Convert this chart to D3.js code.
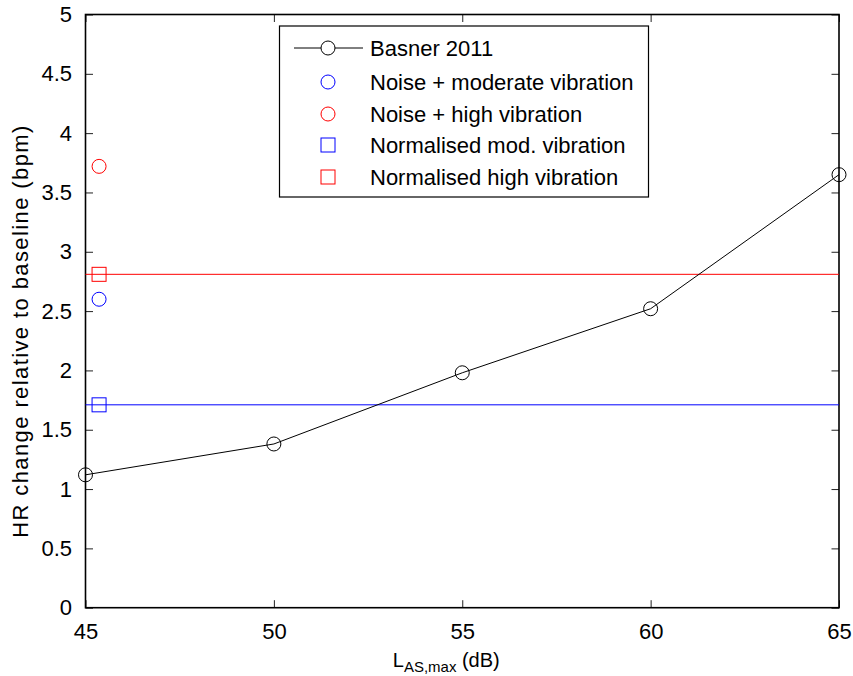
<!DOCTYPE html>
<html>
<head>
<meta charset="utf-8">
<script src="https://cdn.jsdelivr.net/npm/d3@7"></script>
<style>
  html, body { margin: 0; padding: 0; background: #fff; }
  svg text { font-family: "Liberation Sans", Arial, sans-serif; fill: #000; }
</style>
</head>
<body>
<div id="chart"></div>
<script>
// Heart-rate change vs. maximum sound level
const noiseLevels = [45, 50, 55, 60, 65];
const basnerHR = [1.12, 1.38, 1.98, 2.52, 3.65];

const vibX = 45.36;
const noiseModVib = 2.60;
const noiseHighVib = 3.72;
const normModVib = 1.71;
const normHighVib = 2.81;

const xTicks = [45, 50, 55, 60, 65];
const yTicks = [0, 0.5, 1, 1.5, 2, 2.5, 3, 3.5, 4, 4.5, 5];

const legendLabels = [
  "Basner 2011",
  "Noise + moderate vibration",
  "Noise + high vibration",
  "Normalised mod. vibration",
  "Normalised high vibration"
];

const W = 853, H = 676;
const m = { left: 85.5, right: 853 - 839, top: 14.5, bottom: 676 - 607.7 };

const svg = d3.select("#chart").append("svg")
  .attr("width", W).attr("height", H);

const x = d3.scaleLinear().domain([45, 65]).range([m.left, W - m.right]);
const y = d3.scaleLinear().domain([0, 5]).range([H - m.bottom, m.top]);

const tickLen = 7.5;
const fmt = d => String(d);

// axes: labelled bottom/left, bare ticks on top/right, all ticks pointing inward
const gx = svg.append("g").attr("transform", `translate(0,${y(0)})`)
  .call(d3.axisBottom(x).tickValues(xTicks).tickFormat(fmt).tickSizeInner(-tickLen).tickSizeOuter(0).tickPadding(tickLen + 8));
const gy = svg.append("g").attr("transform", `translate(${x(45)},0)`)
  .call(d3.axisLeft(y).tickValues(yTicks).tickFormat(fmt).tickSizeInner(-tickLen).tickSizeOuter(0).tickPadding(tickLen + 6));
const gxt = svg.append("g").attr("transform", `translate(0,${y(5)})`)
  .call(d3.axisTop(x).tickValues(xTicks).tickFormat("").tickSizeInner(-tickLen).tickSizeOuter(0));
const gyr = svg.append("g").attr("transform", `translate(${x(65)},0)`)
  .call(d3.axisRight(y).tickValues(yTicks).tickFormat("").tickSizeInner(-tickLen).tickSizeOuter(0));

[gx, gy, gxt, gyr].forEach(g => {
  g.select(".domain").remove();
  g.selectAll(".tick line").attr("stroke", "#222").attr("stroke-width", 1);
  g.selectAll(".tick text").attr("font-size", 22).attr("fill", "#000");
});

// plot frame
svg.append("rect")
  .attr("x", x(45)).attr("y", y(5))
  .attr("width", x(65) - x(45)).attr("height", y(0) - y(5))
  .attr("fill", "none").attr("stroke", "#000").attr("stroke-width", 1.6);

const plot = svg.append("g");

// normalised reference lines
plot.append("line")
  .attr("x1", x(45)).attr("x2", x(65))
  .attr("y1", y(normHighVib)).attr("y2", y(normHighVib))
  .attr("stroke", "#ff0000").attr("stroke-width", 1);
plot.append("line")
  .attr("x1", x(45)).attr("x2", x(65))
  .attr("y1", y(normModVib)).attr("y2", y(normModVib))
  .attr("stroke", "#0000ff").attr("stroke-width", 1);

// Basner 2011 curve
const pts = noiseLevels.map((d, i) => [d, basnerHR[i]]);
plot.append("path")
  .attr("d", d3.line().x(d => x(d[0])).y(d => y(d[1]))(pts))
  .attr("fill", "none").attr("stroke", "#000").attr("stroke-width", 1);
plot.selectAll("circle.basner").data(pts).enter().append("circle")
  .attr("class", "basner")
  .attr("cx", d => x(d[0])).attr("cy", d => y(d[1])).attr("r", 7)
  .attr("fill", "none").attr("stroke", "#000").attr("stroke-width", 1);

// vibration markers
const R = 7, S = 14;
plot.append("circle").attr("cx", x(vibX)).attr("cy", y(noiseModVib)).attr("r", R)
  .attr("fill", "none").attr("stroke", "#0000ff");
plot.append("circle").attr("cx", x(vibX)).attr("cy", y(noiseHighVib)).attr("r", R)
  .attr("fill", "none").attr("stroke", "#ff0000");
plot.append("rect").attr("x", x(vibX) - S / 2).attr("y", y(normModVib) - S / 2)
  .attr("width", S).attr("height", S).attr("fill", "none").attr("stroke", "#0000ff");
plot.append("rect").attr("x", x(vibX) - S / 2).attr("y", y(normHighVib) - S / 2)
  .attr("width", S).attr("height", S).attr("fill", "none").attr("stroke", "#ff0000");

// axis titles
const xt = svg.append("text")
  .attr("x", (x(45) + x(65)) / 2 - 16).attr("y", 667)
  .attr("text-anchor", "middle").attr("font-size", 20);
xt.append("tspan").text("L");
xt.append("tspan").attr("font-size", 15).attr("dy", 5).text("AS,max");
xt.append("tspan").attr("dy", -5).text(" (dB)");

svg.append("text")
  .attr("transform", "translate(28,331) rotate(-90)")
  .attr("text-anchor", "middle").attr("font-size", 22)
  .attr("letter-spacing", 1.4)
  .text("HR change relative to baseline (bpm)");

// legend
const lg = svg.append("g");
lg.append("rect").attr("x", 279.5).attr("y", 26).attr("width", 369).attr("height", 171)
  .attr("fill", "#fff").attr("stroke", "#000").attr("stroke-width", 1.2);
const rowY = [48, 82, 114, 145, 177];
const mx = 328;
const styles = [
  { kind: "lineCircle", color: "#000" },
  { kind: "circle", color: "#0000ff" },
  { kind: "circle", color: "#ff0000" },
  { kind: "square", color: "#0000ff" },
  { kind: "square", color: "#ff0000" }
];
legendLabels.forEach((label, i) => {
  const cy = rowY[i];
  const st = styles[i];
  if (st.kind === "lineCircle") {
    lg.append("line").attr("x1", 294).attr("x2", 363).attr("y1", cy).attr("y2", cy)
      .attr("stroke", st.color).attr("stroke-width", 1);
  }
  if (st.kind === "square") {
    lg.append("rect").attr("x", mx - S / 2).attr("y", cy - S / 2).attr("width", S).attr("height", S)
      .attr("fill", "none").attr("stroke", st.color);
  } else {
    lg.append("circle").attr("cx", mx).attr("cy", cy).attr("r", R)
      .attr("fill", st.kind === "lineCircle" ? "#fff" : "none").attr("stroke", st.color);
  }
  lg.append("text").attr("x", 370).attr("y", cy).attr("dy", "0.35em")
    .attr("font-size", 22).text(label);
});
</script>
</body>
</html>
